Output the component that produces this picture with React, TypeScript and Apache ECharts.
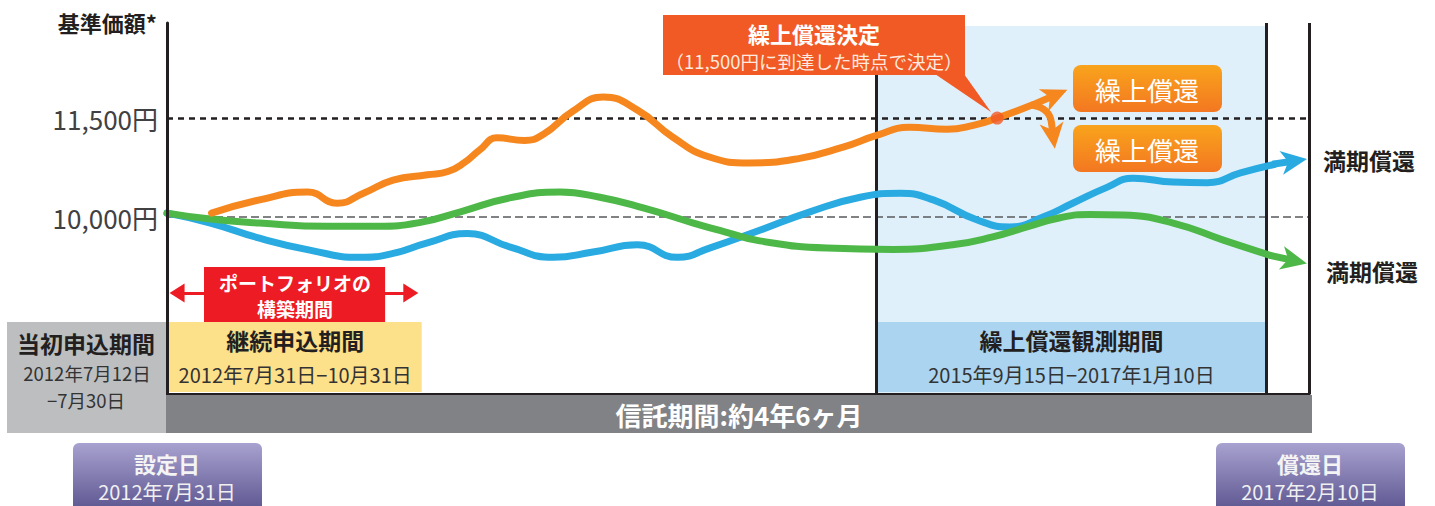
import React, { useEffect, useRef } from 'react';
import * as echarts from 'echarts';

const FONT = "'Noto Sans CJK JP', 'Noto Sans', sans-serif";

// Axis reference levels (yen) and their labels
const yTickValues = [11500, 10000];
const yTickLabels = ['11,500円', '10,000円'];

// Curves: x = position along the trust period (0..100), y = NAV (yen)
const orangeX = [3.9, 8.1, 12.3, 14.9, 17.2, 19.8, 22.8, 24.6, 26.0, 27.4, 28.9, 31.3, 33.0, 35.5, 38.2, 41.2, 44.3, 47.5, 51.0, 55.4, 59.2, 62.2, 65.0, 68.3, 70.6, 72.7, 75.8];
const orangeY = [10060, 10260, 10380, 10210, 10360, 10560, 10640, 10690, 10820, 11020, 11200, 11160, 11260, 11600, 11820, 11620, 11210, 10910, 10820, 10890, 11060, 11240, 11360, 11330, 11390, 11500, 11700];

const blueX = [0, 3.8, 8.1, 12.5, 16.9, 19.8, 22.8, 26.3, 30.0, 33.8, 37.3, 41.2, 44.7, 47.5, 51.9, 56.3, 60.7, 64.2, 67.1, 70.9, 73.8, 76.7, 79.3, 82.3, 84.6, 88.1, 91.1, 94.0, 97.0];
const blueY = [10060, 9910, 9680, 9500, 9390, 9450, 9610, 9750, 9550, 9390, 9470, 9580, 9390, 9530, 9800, 10080, 10300, 10360, 10260, 9960, 9850, 10000, 10210, 10450, 10590, 10530, 10520, 10670, 10800];

const greenX = [0, 3.8, 8.1, 14.0, 18.4, 22.2, 25.7, 30.0, 34.4, 37.9, 41.7, 46.1, 49.0, 51.9, 57.8, 63.6, 68.8, 72.3, 75.3, 78.2, 80.8, 83.7, 88.1, 92.5, 96.6];
const greenY = [10060, 9970, 9910, 9860, 9860, 9920, 10080, 10290, 10380, 10300, 10140, 9910, 9770, 9640, 9530, 9510, 9580, 9700, 9850, 9990, 10040, 10030, 9910, 9650, 9420];

// Early-redemption branch (downward arrow)
const branchX = [75.9, 77.0, 77.45];
const branchY = [11690, 11600, 11430];

// Arrowheads: [from, to]
const orangeArrow = [[75.8, 11700], [77.8, 11850]];
const branchArrow = [[77.45, 11430], [77.6, 11230]];
const blueArrow = [[96.8, 10800], [98.7, 10850]];
const greenArrow = [[96.6, 9420], [98.7, 9340]];

// Trigger point
const triggerPoint = [72.7, 11500];

// Periods (x positions)
const obsPeriod = [62.1, 96.3];
const contPeriod = [0.15, 22.3];
const buildArrow = [0.88, 21.35];
const buildBox = [3.24, 19.1];
const trustEnd = 100;

// Axis range
const yMin = 7320;
const yMax = 12940;

const ARROW = 'path://M0,0L12,26L0,19L-12,26Z';
const TRI = 'path://M0,0L10,14L-10,14Z';

const zip = (xs: number[], ys: number[]) => xs.map((x, i) => [x, ys[i]]);

const curve = (name: string, color: string, xs: number[], ys: number[], arrow: number[][], z: number) => ({
  type: 'line',
  name,
  data: zip(xs, ys),
  smooth: 0.5,
  showSymbol: false,
  z,
  silent: true,
  lineStyle: { color, width: 7, cap: 'round', join: 'round' },
  markLine: {
    silent: true,
    symbol: ['none', ARROW],
    symbolSize: [24, 26],
    lineStyle: { color, width: 7, type: 'solid' },
    itemStyle: { color },
    label: { show: false },
    emphasis: { disabled: true },
    data: [[{ coord: arrow[0] }, { coord: arrow[1] }]],
  },
});

export default function App() {
  const ref = useRef<HTMLDivElement>(null);
  useEffect(() => {
    document.body.style.margin = '0';
    if (!ref.current) return;
    const chart = echarts.init(ref.current, null, { renderer: 'svg' });
    const purple = () =>
      new echarts.graphic.LinearGradient(0, 0, 0, 1, [
        { offset: 0, color: '#a8a2d0' },
        { offset: 1, color: '#5a538e' },
      ]);
    const orangeGrad = () =>
      new echarts.graphic.LinearGradient(0, 0, 0, 1, [
        { offset: 0, color: '#f9a41c' },
        { offset: 1, color: '#f37721' },
      ]);
    const txt = (x: number, y: number, text: string, size: number, color: string, bold: boolean, align = 'center') => ({
      type: 'text',
      x,
      y,
      z: 101,
      style: {
        text,
        fill: color,
        font: `${bold ? 'bold ' : ''}${size}px ${FONT}`,
        align,
        verticalAlign: 'middle',
      },
    });

    const hLines = yTickValues.map((v, i) => ({
      yAxis: v,
      lineStyle:
        i === 0
          ? { color: '#231f20', width: 2.5, type: [6, 5] }
          : { color: '#58595b', width: 1.5, type: [8, 4] },
      label: {
        show: true,
        position: 'start',
        distance: 9,
        formatter: yTickLabels[i],
        fontSize: 26,
        color: '#414042',
        fontFamily: FONT,
      },
    }));

    const option = {
      animation: false,
      textStyle: { fontFamily: FONT },
      grid: { left: 167, right: 126, top: 23, bottom: 112, containLabel: false },
      xAxis: {
        type: 'value',
        min: 0,
        max: trustEnd,
        z: 10,
        axisLine: { show: true, lineStyle: { color: '#231f20', width: 3 } },
        axisTick: { show: false },
        axisLabel: { show: false },
        splitLine: { show: false },
      },
      yAxis: {
        type: 'value',
        min: yMin,
        max: yMax,
        z: 10,
        axisLine: { show: true, lineStyle: { color: '#231f20', width: 3 } },
        axisTick: { show: false },
        axisLabel: { show: false },
        splitLine: { show: false },
      },
      series: [
        {
          type: 'line',
          data: [],
          z: 1,
          silent: true,
          markArea: {
            silent: true,
            data: [[
              { xAxis: obsPeriod[0], yAxis: 12894, itemStyle: { color: '#dff0fb' } },
              { xAxis: obsPeriod[1], yAxis: yMin },
            ]],
          },
        },
        {
          type: 'line',
          data: [],
          z: 2,
          silent: true,
          markArea: {
            silent: true,
            data: [
              [
                {
                  xAxis: contPeriod[0],
                  yAxis: 8410,
                  itemStyle: { color: '#fde08a' },
                  label: {
                    show: true,
                    position: 'inside',
                    formatter: '{a|継続申込期間}\n{b|2012年7月31日−10月31日}',
                    rich: {
                      a: { fontSize: 23, fontWeight: 'bold', color: '#231f20', lineHeight: 34, fontFamily: FONT },
                      b: { fontSize: 20, color: '#333333', lineHeight: 34, fontFamily: FONT },
                    },
                  },
                },
                { xAxis: contPeriod[1], yAxis: 7350 },
              ],
              [
                {
                  xAxis: obsPeriod[0],
                  yAxis: 8410,
                  itemStyle: { color: '#abd4f0' },
                  label: {
                    show: true,
                    position: 'inside',
                    formatter: '{a|繰上償還観測期間}\n{b|2015年9月15日−2017年1月10日}',
                    rich: {
                      a: { fontSize: 23, fontWeight: 'bold', color: '#231f20', lineHeight: 34, fontFamily: FONT },
                      b: { fontSize: 20, color: '#333333', lineHeight: 34, fontFamily: FONT },
                    },
                  },
                },
                { xAxis: obsPeriod[1], yAxis: 7350 },
              ],
            ],
          },
        },
        {
          type: 'line',
          data: [],
          z: 3,
          silent: true,
          markLine: {
            silent: true,
            symbol: ['none', 'none'],
            emphasis: { disabled: true },
            data: [
              ...hLines,
              { xAxis: obsPeriod[0], lineStyle: { color: '#231f20', width: 3, type: 'solid' }, label: { show: false } },
              { xAxis: obsPeriod[1], lineStyle: { color: '#231f20', width: 3, type: 'solid' }, label: { show: false } },
              { xAxis: trustEnd, lineStyle: { color: '#231f20', width: 3, type: 'solid' }, label: { show: false } },
            ],
          },
        },
        {
          type: 'line',
          data: [],
          z: 4,
          silent: true,
          markLine: {
            silent: true,
            symbol: [TRI, TRI],
            symbolSize: [19, 15],
            lineStyle: { color: '#ed1c24', width: 3, type: 'solid' },
            itemStyle: { color: '#ed1c24' },
            label: { show: false },
            emphasis: { disabled: true },
            data: [[{ coord: [buildArrow[0], 8849] }, { coord: [buildArrow[1], 8849] }]],
          },
        },
        {
          type: 'line',
          data: [],
          z: 5,
          silent: true,
          markArea: {
            silent: true,
            data: [[
              { xAxis: buildBox[0], yAxis: 9243, itemStyle: { color: '#ed1c24' }, label: { show: false } },
              { xAxis: buildBox[1], yAxis: 8410 },
            ]],
          },
        },
        curve('blue', '#29abe2', blueX, blueY, blueArrow, 6),
        curve('green', '#4db848', greenX, greenY, greenArrow, 7),
        curve('orange', '#f6871f', orangeX, orangeY, orangeArrow, 8),
        curve('branch', '#f6871f', branchX, branchY, branchArrow, 8),
        {
          type: 'scatter',
          data: [triggerPoint],
          symbolSize: 13,
          z: 9,
          silent: true,
          itemStyle: { color: '#f15a24' },
        },
      ],
      graphic: [
        txt(157, 22, '基準価額*', 22, '#231f20', true, 'right'),
        txt(295, 282, 'ポートフォリオの', 19, '#ffffff', true),
        txt(295, 308, '構築期間', 19, '#ffffff', true),
        { type: 'rect', z: 100, shape: { x: 7, y: 322, width: 159, height: 111 }, style: { fill: '#bcbec0' } },
        txt(86, 343, '当初申込期間', 23, '#231f20', true),
        txt(87, 373, '2012年7月12日', 18.5, '#333333', false),
        txt(86, 400, '−7月30日', 18.5, '#333333', false),
        { type: 'rect', z: 100, shape: { x: 166, y: 395, width: 1146, height: 38 }, style: { fill: '#808285' } },
        txt(739, 414, '信託期間:約4年6ヶ月', 26, '#ffffff', true),
        { type: 'rect', z: 100, shape: { x: 73, y: 443, width: 189, height: 70, r: [6, 6, 0, 0] }, style: { fill: purple() } },
        txt(167, 463, '設定日', 22, '#f4f4f4', true),
        txt(167, 491, '2012年7月31日', 20, '#f0f0f0', false),
        { type: 'rect', z: 100, shape: { x: 1216, y: 443, width: 189, height: 70, r: [6, 6, 0, 0] }, style: { fill: purple() } },
        txt(1310, 463, '償還日', 22, '#f4f4f4', true),
        txt(1310, 491, '2017年2月10日', 20, '#f0f0f0', false),
        { type: 'rect', z: 100, shape: { x: 663, y: 15, width: 302, height: 60 }, style: { fill: '#f15a24' } },
        { type: 'polygon', z: 100, shape: { points: [[935, 74], [964, 74], [991, 112]] }, style: { fill: '#f15a24' } },
        txt(814, 33, '繰上償還決定', 22, '#ffffff', true),
        txt(814, 61, '（11,500円に到達した時点で決定）', 18.5, '#fde9df', false),
        { type: 'rect', z: 100, shape: { x: 1073, y: 65, width: 149, height: 47, r: 8 }, style: { fill: orangeGrad() } },
        txt(1147, 89, '繰上償還', 26, '#ffffff', false),
        { type: 'rect', z: 100, shape: { x: 1073, y: 125, width: 149, height: 47, r: 8 }, style: { fill: orangeGrad() } },
        txt(1147, 149, '繰上償還', 26, '#ffffff', false),
        txt(1323, 160, '満期償還', 23, '#231f20', true, 'left'),
        txt(1326, 271, '満期償還', 23, '#231f20', true, 'left'),
      ],
    };
    chart.setOption(option as any);
    return () => chart.dispose();
  }, []);
  return <div ref={ref} style={{ width: 1435, height: 506 }} />;
}
